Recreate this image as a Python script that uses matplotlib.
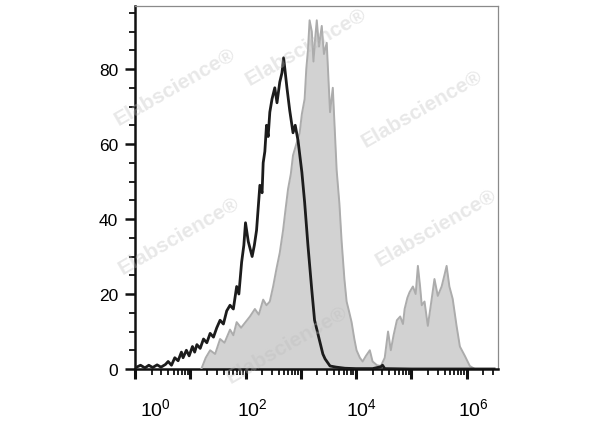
import numpy as np
import matplotlib
matplotlib.use('Agg')
import matplotlib.pyplot as plt
from matplotlib.ticker import LogLocator, MultipleLocator, NullFormatter
from matplotlib.transforms import ScaledTranslation

plt.rcParams['font.family'] = ['Liberation Sans', 'DejaVu Sans']

# --- data: log10(intensity) and % of max ---
ctrl_log = [0.03, 0.1, 0.18, 0.25, 0.32, 0.4, 0.47, 0.55, 0.6, 0.66, 0.72, 0.78, 0.84, 0.87,
            0.93, 0.98, 1.04, 1.08, 1.12, 1.18, 1.24, 1.3, 1.36, 1.42, 1.48, 1.54, 1.6,
            1.66, 1.72, 1.78, 1.84, 1.88, 1.93, 1.97, 2.0, 2.05, 2.12, 2.16, 2.2, 2.23,
            2.26, 2.3, 2.32, 2.35, 2.38, 2.41, 2.44, 2.48, 2.53, 2.57, 2.62, 2.66, 2.69,
            2.72, 2.75, 2.8, 2.86, 2.9, 2.95, 3.02, 3.07, 3.13, 3.2, 3.25, 3.3, 3.35,
            3.4, 3.44, 3.53, 3.64, 3.8, 4.0, 4.3, 4.45, 4.48, 4.52, 5.0, 5.5, 6.0, 6.5]
ctrl_pct = [0.5, 1.0, 0.3, 1.0, 0.4, 1.1, 0.5, 1.2, 2.0, 1.0, 3.0, 2.2, 4.5, 3.0,
            5.0, 3.5, 6.0, 4.5, 6.5, 5.5, 8.0, 7.0, 9.5, 8.5, 11.0, 13.0, 12.0,
            15.5, 17.0, 16.0, 22.0, 20.0, 28.5, 33.0, 39.0, 34.0, 30.0, 33.0, 37.0, 43.0,
            49.0, 47.0, 55.0, 58.0, 65.0, 62.0, 68.5, 72.0, 75.0, 71.0, 76.5, 79.0, 83.0,
            79.0, 75.0, 69.0, 63.0, 65.0, 61.0, 52.5, 44.5, 33.0, 21.0, 13.0, 10.0, 7.0,
            4.0, 2.7, 0.8, 0.5, 0.2, 0.1, 0.1, 0.6, 1.0, 0.1, 0.0, 0.0, 0.0, 0.0]

stain_log = [1.2, 1.28, 1.36, 1.45, 1.54, 1.62, 1.72, 1.78, 1.84, 1.92, 2.0, 2.08, 2.17,
             2.24, 2.32, 2.38, 2.44, 2.5, 2.56, 2.62, 2.68, 2.72, 2.77, 2.82, 2.86, 2.92,
             2.98, 3.02, 3.07, 3.1, 3.13, 3.16, 3.2, 3.23, 3.26, 3.29, 3.33, 3.38, 3.42,
             3.47, 3.53, 3.58, 3.65, 3.7, 3.74, 3.79, 3.83, 3.88, 3.92, 3.97, 4.01, 4.07,
             4.12, 4.18, 4.25, 4.3, 4.38, 4.45, 4.52, 4.58, 4.63, 4.68, 4.74, 4.8, 4.85,
             4.88, 4.93, 4.97, 5.03, 5.08, 5.12, 5.16, 5.19, 5.24, 5.3, 5.37, 5.42, 5.48,
             5.55, 5.6, 5.64, 5.69, 5.75, 5.82, 5.88, 5.97, 6.06, 6.15]
stain_pct = [0.0, 3.0, 5.0, 4.0, 8.0, 7.0, 10.5, 9.0, 12.5, 11.0, 12.5, 14.0, 16.0,
             14.5, 18.5, 17.0, 18.0, 22.0, 26.7, 31.0, 37.0, 42.0, 48.0, 52.0, 57.0, 60.0,
             63.0, 68.0, 72.0, 80.0, 85.0, 93.0, 90.0, 82.0, 88.0, 93.0, 86.0, 91.5, 84.0,
             87.0, 68.5, 75.0, 53.0, 44.0, 34.0, 24.0, 18.0, 15.0, 12.5, 8.0, 5.0, 3.0,
             2.0, 3.5, 5.0, 2.0, 1.0, 0.8, 3.0, 10.0, 5.0, 9.0, 13.0, 14.0, 12.0,
             16.0, 19.0, 20.5, 22.0, 20.0, 27.5, 22.0, 17.0, 18.0, 11.5, 18.7, 24.0, 19.5,
             22.0, 25.0, 27.5, 22.0, 18.7, 11.5, 6.0, 3.5, 0.8, 0.0]

ctrl_x = 10 ** np.array(ctrl_log)
stain_x = 10 ** np.array(stain_log)

fig = plt.figure(figsize=(6, 4.27), dpi=100)
ax = fig.add_axes([0.225, 0.1335, 0.605, 0.850])

ax.fill_between(stain_x, stain_pct, color='#d2d2d2', lw=0, zorder=2)
ax.plot(stain_x, stain_pct, color='#acacac', lw=1.4, zorder=3)
ax.plot(ctrl_x, ctrl_pct, color='#1c1c1c', lw=2.0, zorder=4)

ax.set_xscale('log')
ax.set_xlim(1, 10 ** 6.57)
ax.set_ylim(0, 96.8)

# axes frame: heavy black left/bottom, thin grey top/right
for side in ['left', 'bottom']:
    ax.spines[side].set_linewidth(1.8)
    ax.spines[side].set_color('#111111')
for side in ['top', 'right']:
    ax.spines[side].set_linewidth(0.9)
    ax.spines[side].set_color('#8a8a8a')

ax.set_yticks([0, 20, 40, 60, 80])
ax.yaxis.set_minor_locator(MultipleLocator(5))
ax.tick_params(axis='y', which='major', length=7, width=1.8, pad=5, labelsize=12.5,
               color='#111111')
ax.tick_params(axis='y', which='minor', length=4, width=1.3, color='#111111')

dec_ticks = [10.0 ** k for k in range(0, 7)]
ax.set_xticks(dec_ticks)
ax.set_xticklabels([r'$\mathregular{10^{%d}}$' % k if k % 2 == 0 else '' for k in range(0, 7)])
ax.xaxis.set_minor_locator(LogLocator(base=10, subs=np.arange(2, 10), numticks=20))
ax.xaxis.set_minor_formatter(NullFormatter())
ax.tick_params(axis='x', which='major', length=7, width=2.2, pad=13, labelsize=14,
               color='#111111')
ax.tick_params(axis='x', which='minor', length=4, width=1.3, color='#111111')

shifts = [20, 0, 7, 0, 5, 0, 7]
for tick, dx in zip(ax.xaxis.get_major_ticks(), shifts):
    lab = tick.label1
    lab.set_transform(lab.get_transform() + ScaledTranslation(dx / 100, 0, fig.dpi_scale_trans))

# watermark
marks = [(0.47, 0.89), (0.11, 0.78), (0.79, 0.72), (0.12, 0.37), (0.83, 0.39), (0.42, 0.07)]
for mx, my in marks:
    ax.text(mx, my, 'Elabscience\u00ae', transform=ax.transAxes, rotation=30,
            fontsize=15, fontweight='bold', color='#bdbdbd', alpha=0.35,
            ha='center', va='center', zorder=5)

fig.savefig('out.png', dpi=100)
